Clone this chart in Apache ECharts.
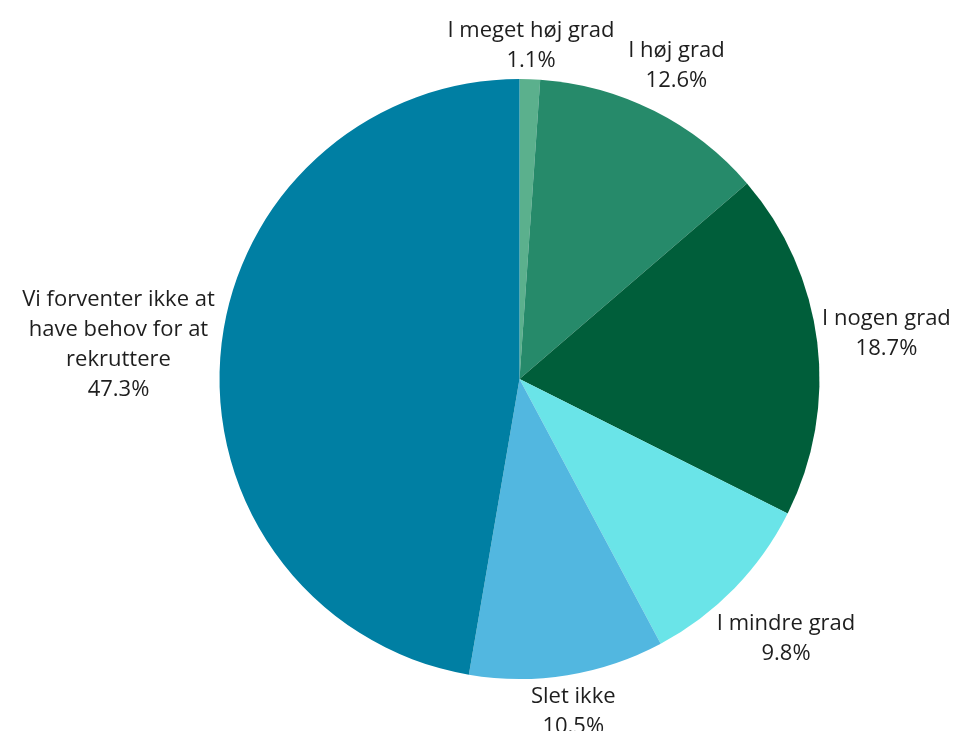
<!DOCTYPE html>
<html>
<head>
<meta charset="utf-8">
<script src="https://cdn.jsdelivr.net/npm/echarts@6/dist/echarts.min.js"></script>
<style>
html,body{margin:0;padding:0;background:#fff;}
#chart{width:957px;height:731px;}
</style>
</head>
<body>
<div id="chart"></div>
<script>
const categories = ["I meget høj grad", "I høj grad", "I nogen grad", "I mindre grad", "Slet ikke", "Vi forventer ikke at have behov for at rekruttere"];
const values = [1.1, 12.6, 18.7, 9.8, 10.5, 47.3];
const colors = ["#5bb08d", "#268a6a", "#005e3a", "#6ae4e8", "#52b7e0", "#007fa3"];

const CX = 519.5, CY = 379, R = 300, GAP = 3;
const total = values.reduce((a, b) => a + b, 0);
const midAngles = [];
(function () {
  let acc = 0;
  values.forEach(v => { midAngles.push((acc + v / 2) / total * 2 * Math.PI); acc += v; });
})();

const chart = echarts.init(document.getElementById('chart'));
chart.setOption({
  animation: false,
  series: [{
    type: 'pie',
    center: [CX, CY],
    radius: R,
    startAngle: 90,
    clockwise: true,
    avoidLabelOverlap: false,
    labelLine: { show: false },
    label: {
      show: true,
      position: 'outside',
      fontFamily: 'Open Sans',
      fontSize: 22,
      lineHeight: 30,
      color: '#1e1e1e',
      formatter: p => p.name + '\n' + p.value.toFixed(1) + '%'
    },
    labelLayout: function (params) {
      const th = midAngles[params.dataIndex];
      const ux = Math.sin(th), uy = -Math.cos(th);
      const w = params.labelRect.width / 2, h = params.labelRect.height / 2;
      let lo = 0, hi = 1000;
      for (let i = 0; i < 60; i++) {
        const d = (lo + hi) / 2;
        const cx = d * ux, cy = d * uy;
        const nx = Math.max(0, Math.abs(cx) - w), ny = Math.max(0, Math.abs(cy) - h);
        if (Math.sqrt(nx * nx + ny * ny) < R + GAP) lo = d; else hi = d;
      }
      return { x: CX + lo * ux, y: CY + lo * uy, align: 'center', verticalAlign: 'middle' };
    },
    emphasis: { disabled: true },
    data: categories.map((c, i) => {
      const item = { name: c, value: values[i], itemStyle: { color: colors[i] } };
      if (c.length > 30) item.label = { width: 196, overflow: 'break' };
      return item;
    })
  }]
});
</script>
</body>
</html>
